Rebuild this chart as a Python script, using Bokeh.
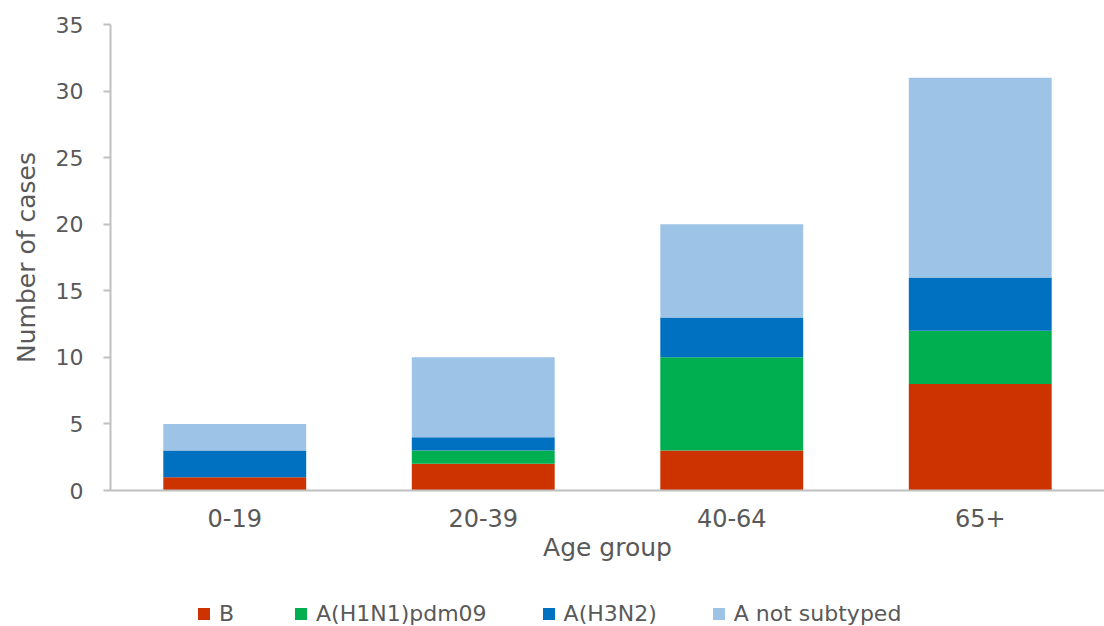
from bokeh.plotting import figure
from bokeh.layouts import column
from bokeh.models import (FactorRange, Range1d, Legend, LegendItem, ColumnDataSource,
                          SingleIntervalTicker)
from bokeh.embed import file_html
from bokeh.resources import INLINE

age_groups = ["0-19", "20-39", "40-64", "65+"]
series_names = ["B", "A(H1N1)pdm09", "A(H3N2)", "A not subtyped"]
b_vals = [1, 2, 3, 8]
h1n1_vals = [0, 1, 7, 4]
h3n2_vals = [2, 1, 3, 4]
ans_vals = [2, 6, 7, 15]
colors = ["#CC3300", "#00B050", "#0070C0", "#9DC3E6"]

keys = ["b", "h1n1", "h3n2", "ans"]
source = ColumnDataSource(dict(age=age_groups, b=b_vals, h1n1=h1n1_vals, h3n2=h3n2_vals, ans=ans_vals))

FONT = "DejaVu Sans"
TXT = "#595959"
AXIS = "#C0C0C0"

p = figure(width=1104, height=566, output_backend="svg", toolbar_location=None,
           x_range=FactorRange(*age_groups, range_padding=0), y_range=Range1d(0, 35),
           min_border_left=110, min_border_right=0, min_border_top=24, min_border_bottom=76)

renderers = p.vbar_stack(keys, x="age", width=0.575, color=colors, source=source, line_width=0)

p.outline_line_color = None
p.xgrid.visible = False
p.ygrid.visible = False

p.yaxis.ticker = SingleIntervalTicker(interval=5)
p.yaxis.minor_tick_line_color = None
p.yaxis.major_tick_in = 0
p.yaxis.major_tick_out = 7
p.yaxis.axis_line_color = AXIS
p.yaxis.major_tick_line_color = AXIS
p.yaxis.axis_line_width = 2
p.yaxis.major_tick_line_width = 2
p.yaxis.major_label_text_font = FONT
p.yaxis.major_label_text_font_size = "22px"
p.yaxis.major_label_text_color = TXT
p.yaxis.major_label_standoff = 20
p.yaxis.axis_label = "Number of cases"
p.yaxis.axis_label_text_font = FONT
p.yaxis.axis_label_text_font_size = "25px"
p.yaxis.axis_label_text_font_style = "normal"
p.yaxis.axis_label_text_color = TXT
p.yaxis.axis_label_standoff = 12

p.xaxis.axis_line_color = AXIS
p.xaxis.axis_line_width = 2
p.xaxis.major_tick_line_color = None
p.xaxis.major_tick_out = 0
p.xaxis.major_tick_in = 0
p.xaxis.minor_tick_line_color = None
p.xaxis.major_label_text_font = FONT
p.xaxis.major_label_text_font_size = "24px"
p.xaxis.major_label_text_color = TXT
p.xaxis.major_label_standoff = 18
p.xaxis.axis_label = "Age group"
p.xaxis.axis_label_text_font = FONT
p.xaxis.axis_label_text_font_size = "25px"
p.xaxis.axis_label_text_font_style = "normal"
p.xaxis.axis_label_text_color = TXT
p.xaxis.axis_label_standoff = 3

# legend strip below the chart (its frame is aligned with the chart's frame)
lg = figure(width=1104, height=60, output_backend="svg", toolbar_location=None,
            x_range=Range1d(0, 1), y_range=Range1d(0, 1),
            x_axis_location=None, y_axis_location=None,
            min_border_left=110, min_border_right=0, min_border_top=0, min_border_bottom=0)
lg.outline_line_color = None
lg.xgrid.visible = False
lg.ygrid.visible = False
# swatch renderers sit outside the visible range; only their legend entries show
swatches = [lg.vbar(x=[-5], top=[0], bottom=[0], width=0.1, color=c, line_width=0) for c in colors]
items = [LegendItem(label=n, renderers=[r]) for n, r in zip(series_names, swatches)]
legend = Legend(items=items, orientation="horizontal", location=(86, 0),
                label_text_font=FONT, label_text_font_size="22px", label_text_color=TXT,
                glyph_width=15, glyph_height=15, spacing=54, label_standoff=8,
                border_line_color=None, background_fill_alpha=0, padding=0, margin=0)
lg.add_layout(legend, "center")

layout = column(p, lg, spacing=0)
open("out.html", "w").write(file_html(layout, INLINE))
